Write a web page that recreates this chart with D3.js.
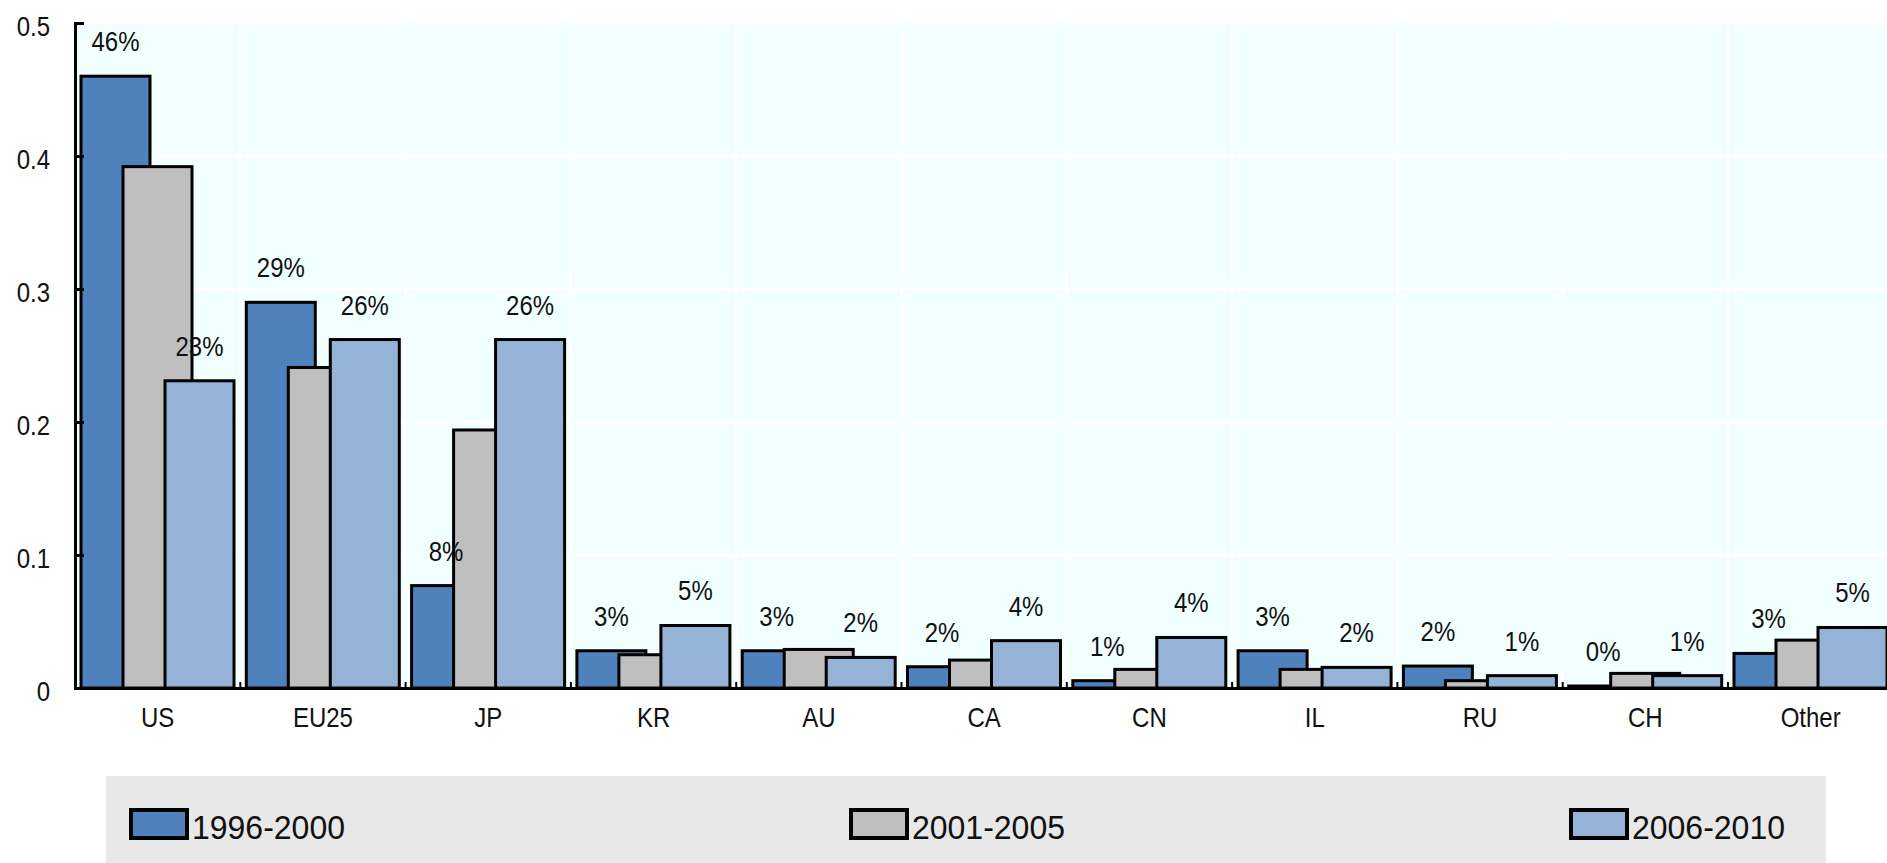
<!DOCTYPE html>
<html>
<head>
<meta charset="utf-8">
<script src="https://cdn.jsdelivr.net/npm/d3@7"></script>
<style>
  body { margin: 0; background: #fff; }
  text { font-family: "Liberation Sans", Arial, sans-serif; fill: #111; }
</style>
</head>
<body>
<script>
const categories = ["US", "EU25", "JP", "KR", "AU", "CA", "CN", "IL", "RU", "CH", "Other"];
const periods = ["1996-2000", "2001-2005", "2006-2010"];
const p1996 = [0.460, 0.290, 0.077, 0.028, 0.028, 0.016, 0.0055, 0.028, 0.0165, 0.0015, 0.026];
const p2001 = [0.392, 0.241, 0.194, 0.025, 0.029, 0.021, 0.014, 0.014, 0.0055, 0.011, 0.036];
const p2006 = [0.231, 0.262, 0.262, 0.047, 0.023, 0.0356, 0.038, 0.0155, 0.0093, 0.0093, 0.0455];
const yTicks = [0, 0.1, 0.2, 0.3, 0.4, 0.5];
const colors = ["#4F81BD", "#BFBFBF", "#95B3D7"];

const series = [p1996, p2001, p2006];
const labelled = [0, 2]; // only first and last period carry value labels

const w = 1887;
const h = 863;
const plotLeft = 75;
const plotTop = 23;
const base = 688;
const sy = 1.17; // text in the source is drawn a bit tall

const svg = d3.select("body").append("svg")
  .attr("width", w)
  .attr("height", h);

const x = d3.scaleBand()
  .domain(categories)
  .range([plotLeft, plotLeft + 11 * 165.3])
  .padding(0);

const y = d3.scaleLinear()
  .domain([0, 0.5])
  .range([base, plotTop]);

// bar offset inside a category
const inner = d3.scaleLinear().domain([0, 2]).range([6, 90]);
const barW = 69;

// plot background
svg.append("rect")
  .attr("x", plotLeft)
  .attr("y", plotTop)
  .attr("width", w - plotLeft)
  .attr("height", base - plotTop)
  .attr("fill", "#F2FFFF");

// white grid
svg.append("g").selectAll("line")
  .data(yTicks.filter(d => d > 0 && d < 0.5))
  .enter().append("line")
  .attr("x1", plotLeft).attr("x2", w)
  .attr("y1", d => y(d)).attr("y2", d => y(d))
  .attr("stroke", "#fff").attr("stroke-width", 3);

svg.append("g").selectAll("line")
  .data(categories.slice(1))
  .enter().append("line")
  .attr("x1", d => x(d)).attr("x2", d => x(d))
  .attr("y1", plotTop).attr("y2", base)
  .attr("stroke", "#fff").attr("stroke-width", 3);

// bars
series.forEach((vals, i) => {
  svg.append("g").selectAll("rect")
    .data(vals)
    .enter().append("rect")
    .attr("x", (d, j) => x(categories[j]) + inner(i))
    .attr("y", d => y(d))
    .attr("width", barW)
    .attr("height", d => base - y(d))
    .attr("fill", colors[i])
    .attr("stroke", "#000")
    .attr("stroke-width", 3);
});

// value labels
const pct = d3.format(".0%");
labelled.forEach(i => {
  svg.append("g").selectAll("text")
    .data(series[i])
    .enter().append("text")
    .attr("transform", (d, j) =>
      "translate(" + (x(categories[j]) + inner(i) + barW / 2) + "," + (y(d) - 25) + ") scale(1," + sy + ")")
    .attr("text-anchor", "middle")
    .attr("font-size", 24)
    .text(d => pct(d));
});

// y axis
const yAxis = d3.axisLeft(y)
  .tickValues(yTicks)
  .tickFormat(d => d === 0 ? "0" : d3.format(".1f")(d))
  .tickSizeInner(-9)
  .tickSizeOuter(-9)
  .tickPadding(25);

const gy = svg.append("g")
  .attr("transform", "translate(" + plotLeft + ",0)")
  .call(yAxis);
gy.select(".domain").attr("stroke", "#000").attr("stroke-width", 3);
gy.selectAll(".tick line").attr("stroke", "#000").attr("stroke-width", 3);
gy.selectAll(".tick text")
  .attr("font-size", 24)
  .attr("font-family", "Liberation Sans, Arial, sans-serif")
  .attr("fill", "#111")
  .attr("dy", "0.45em")
  .attr("transform", "scale(1," + sy + ")");

// x axis
const xAxis = d3.axisBottom(x).tickSize(0).tickSizeOuter(0);
const gx = svg.append("g")
  .attr("transform", "translate(0," + base + ")")
  .call(xAxis);
gx.select(".domain").attr("stroke", "#000").attr("stroke-width", 3);
gx.selectAll(".tick text")
  .attr("font-size", 24)
  .attr("font-family", "Liberation Sans, Arial, sans-serif")
  .attr("fill", "#111")
  .attr("y", 0)
  .attr("dy", 0)
  .attr("transform", "translate(0,39) scale(1," + sy + ")");

// category boundary marks on the baseline
svg.append("g").selectAll("line")
  .data(categories.slice(1))
  .enter().append("line")
  .attr("x1", d => x(d)).attr("x2", d => x(d))
  .attr("y1", base).attr("y2", base - 6)
  .attr("stroke", "#000").attr("stroke-width", 2);

// legend
svg.append("rect")
  .attr("x", 106).attr("y", 776)
  .attr("width", 1720).attr("height", 90)
  .attr("fill", "#E8E8E8");

const lx = d3.scaleLinear().domain([0, 2]).range([131, 1571]);
const leg = svg.append("g").selectAll("g")
  .data(periods)
  .enter().append("g")
  .attr("transform", (d, i) => "translate(" + lx(i) + ",0)");

leg.append("rect")
  .attr("x", 0).attr("y", 810)
  .attr("width", 56).attr("height", 28)
  .attr("fill", (d, i) => colors[i])
  .attr("stroke", "#000")
  .attr("stroke-width", 4);

leg.append("text")
  .attr("transform", "translate(61,839) scale(1,1.05)")
  .attr("font-size", 32)
  .text(d => d);
</script>
</body>
</html>
